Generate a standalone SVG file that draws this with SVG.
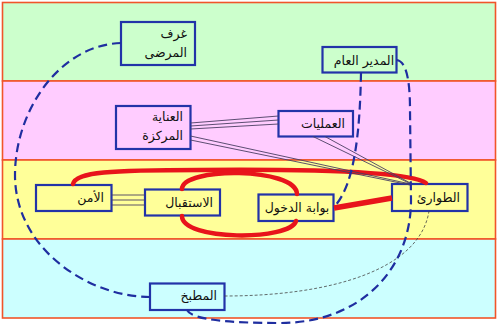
<svg xmlns="http://www.w3.org/2000/svg" width="499" height="328" viewBox="0 0 499 328">
<style>
.band{stroke:#F0552A;stroke-width:1.6}
.node rect{stroke:#2233A8;stroke-width:2.2}
.node text{font-family:"DejaVu Sans","Liberation Sans",sans-serif;font-size:12.5px;fill:#111}
.red{fill:none;stroke:#E8141B;stroke-width:4.5;stroke-linecap:round}
.blue{fill:none;stroke:#1F2EA0;stroke-width:2.2;stroke-dasharray:9 5}
.thin{fill:none;stroke:#4A3E62;stroke-width:0.9}
.tdash{fill:none;stroke:#444;stroke-width:0.8;stroke-dasharray:3 2}
</style>
<rect width="499" height="328" fill="#fff"/>
<g id="bands">
<rect class="band" x="2.5" y="2.5" width="493" height="78.5" fill="#CCFFCC"/>
<rect class="band" x="2.5" y="81" width="493" height="79" fill="#FFCCFF"/>
<rect class="band" x="2.5" y="160" width="493" height="79" fill="#FFFF99"/>
<rect class="band" x="2.5" y="239" width="493" height="79" fill="#CCFFFF"/>
</g>
<g id="nodes">
<g id="patients" class="node"><rect x="121" y="22" width="74" height="43" fill="#CCFFCC"/><text x="187" y="38" text-anchor="end">غرف</text><text x="187" y="57" text-anchor="end">المرضى</text></g>
<g id="director" class="node"><rect x="322.5" y="47" width="74" height="25.5" fill="#CCFFCC"/><text x="364" y="65" text-anchor="middle">المدير العام</text></g>
<g id="icu" class="node"><rect x="116" y="106" width="74.5" height="43" fill="#FFCCFF"/><text x="183" y="121" text-anchor="end">العناية</text><text x="183" y="140" text-anchor="end">المركزة</text></g>
<g id="operations" class="node"><rect x="278.5" y="111" width="74.5" height="25.5" fill="#FFCCFF"/><text x="345" y="128" text-anchor="end">العمليات</text></g>
<g id="security" class="node"><rect x="36" y="185" width="75.5" height="26" fill="#FFFF99"/><text x="104" y="202" text-anchor="end">الأمن</text></g>
<g id="reception" class="node"><rect x="145" y="189.5" width="75" height="26" fill="#FFFF99"/><text x="213" y="207" text-anchor="end">الاستقبال</text></g>
<g id="gate" class="node"><rect x="258.5" y="194.5" width="75" height="26.5" fill="#FFFF99"/><text x="297" y="212" text-anchor="middle">بوابة الدخول</text></g>
<g id="emergency" class="node"><rect x="392" y="184" width="75.5" height="27" fill="#FFFF99"/><text x="460" y="202" text-anchor="end">الطوارئ</text></g>
<g id="kitchen" class="node"><rect x="150" y="283.5" width="74.5" height="26.5" fill="#CCFFFF"/><text x="217" y="300" text-anchor="end">المطبخ</text></g>
</g>
<g id="connectors">
<path class="red" d="M73,184 C76,172 110,170 200,170 C320,169 410,172 426,183"/>
<path class="red" d="M182,189 C182,167 296,167 297,194"/>
<path class="red" d="M182,216 C182,241 290,241 296,221"/>
<path class="red" style="stroke-width:5.5;stroke-linecap:butt" d="M334,208 L392,198"/>
<path class="thin" d="M111.5,195 H145 M111.5,200 H145 M111.5,205 H145"/>
<path class="thin" d="M190.5,123 L278.5,116 M190.5,126 L278.5,120 M190.5,129 L278.5,124"/>
<path class="thin" d="M190.5,136 L408,183.5 M190.5,140 L410,185"/>
<path class="thin" d="M313,136.5 L410,183.5 M325,136.5 L412,184"/>
<path class="tdash" d="M224.5,296 C330,296 420,270 429,211"/>
<path class="blue" d="M121,43 C60,45 15,110 15,175 C15,250 90,297 150,297"/>
<path class="blue" d="M361,72.5 C360,130 355,185 334,207"/>
<path class="blue" d="M396.5,60 C405,61 410,75 410,110 L411,200 C411,270 360,323 280,323 C230,323 192,320 187,310"/>
</g>
</svg>
